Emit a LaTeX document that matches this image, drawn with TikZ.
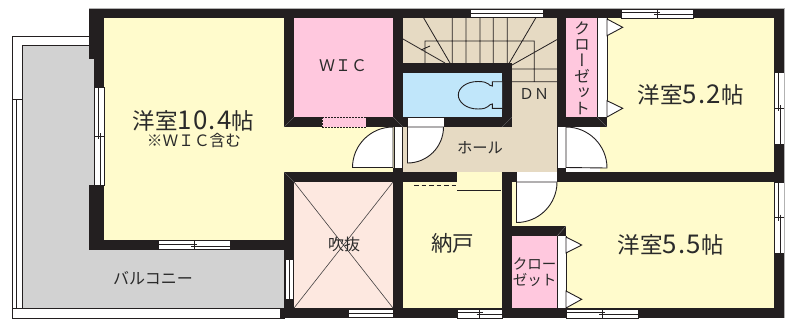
\documentclass[tikz,border=0pt]{standalone}
\usepackage{fontspec}
\setmainfont{Noto Sans CJK JP}
\newfontfamily\cjkv[RawFeature=+vert]{Noto Sans CJK JP}
\newfontfamily\numf[Scale=1.15,LetterSpace=5]{Noto Sans CJK JP}
\definecolor{wall}{HTML}{231F20}
\definecolor{ryellow}{HTML}{FFFBCC}
\definecolor{rpink}{HTML}{FFC8DE}
\definecolor{rblue}{HTML}{C0E6FA}
\definecolor{rtan}{HTML}{E6DAC3}
\definecolor{rgray}{HTML}{D2D2D2}
\definecolor{rvoid}{HTML}{FDE8E0}
\definecolor{ink}{HTML}{2A2A2A}
\tikzset{
  wallfill/.style={fill=wall,draw=none},
  doorleaf/.style={fill=white,draw=wall,line width=0.9pt},
  label/.style={text=ink,inner sep=0pt,font=\fontsize{#1}{#1}\selectfont}
}
\newcommand{\hwin}[3]{% x1 x2 ytop
  \fill[white] (#1,#3) rectangle (#2,#3+9);
  \draw[wall,line width=0.7pt] (#1,#3) rectangle (#2,#3+9);
  \draw[wall,line width=0.7pt] (#1,#3+3.5) -- ({(#1+#2)/2+3},#3+3.5);
  \draw[wall,line width=0.7pt] ({(#1+#2)/2-3},#3+5.5) -- (#2,#3+5.5);
  \draw[wall,line width=0.7pt] ({(#1+#2)/2},#3) -- ({(#1+#2)/2},#3+9);
}
\newcommand{\vwin}[3]{% y1 y2 xleft
  \fill[white] (#3,#1) rectangle (#3+9.5,#2);
  \draw[wall,line width=0.7pt] (#3,#1) rectangle (#3+9.5,#2);
  \draw[wall,line width=0.7pt] (#3+3.5,#1) -- (#3+3.5,{(#1+#2)/2+3});
  \draw[wall,line width=0.7pt] (#3+5.8,{(#1+#2)/2-3}) -- (#3+5.8,#2);
  \draw[wall,line width=0.7pt] (#3,{(#1+#2)/2}) -- (#3+9.5,{(#1+#2)/2});
}
\newcommand{\fixwin}[3]{% x1 x2 ytop
  \fill[white] (#1,#3) rectangle (#2,#3+9);
  \draw[wall,line width=0.7pt] (#1,#3+0.5) -- (#2,#3+0.5) (#1,#3+4.5) -- (#2,#3+4.5) (#1,#3+8.5) -- (#2,#3+8.5);
}
\begin{document}
\begin{tikzpicture}[x=1pt,y=-1pt]
\useasboundingbox (0,0) rectangle (799,322);
\fill[white] (0,0) rectangle (799,322);
% balcony
\draw[fill=white,draw=wall,line width=0.8pt] (12.5,36) rectangle (94,318);
\fill[rgray] (22,45) rectangle (289,308);
\draw[wall,line width=0.8pt] (22,45) -- (94,45) (22,45) -- (22,308) -- (284,308);
\draw[wall,line width=0.7pt] (12.5,99) -- (22,99) (16.7,99) -- (16.7,309);
\draw[fill=white,draw=wall,line width=0.8pt] (12.5,308.5) rectangle (284,318);
% rooms
\fill[ryellow] (100,14) rectangle (290,244);
\fill[ryellow] (284,120) rectangle (398,176);
\fill[rpink] (290,14) rectangle (398,122);
\fill[rvoid] (290,178) rectangle (398,312);
\fill[ryellow] (398,172) rectangle (507,312);
\fill[rtan] (398,14) rectangle (562,172);
\fill[rblue] (398,68) rectangle (507,122);
\fill[rpink] (562,14) rectangle (600,122);
\fill[ryellow] (600,14) rectangle (780,176);
\fill[ryellow] (507,178) rectangle (780,312);
\fill[rpink] (507,232) rectangle (560,312);
% void diagonals
\draw[wall!85,line width=0.6pt] (294,182) -- (393,308) (393,182) -- (294,308);
% stairs
\draw[wall,line width=0.8pt]
  (452.3,18) -- (452.3,63) (466,18) -- (466,63) (480,18) -- (480,63) (493.3,18) -- (493.3,63) (507.3,18) -- (507.3,63)
  (425,63) -- (425,41) -- (534.3,41) -- (534.3,81.7)
  (423.7,18) -- (450,63) (403,39) -- (445,63) (535.7,18) -- (509.3,63) (558,39) -- (512,65)
  (512,69) -- (557,69) (512,81.7) -- (557,81.7)
  (421,50) -- (430,46);
% closets white strips
\fill[white] (597,18) rectangle (607,117);
\draw[wall,line width=0.8pt] (597,18) -- (597,117) (607,18) -- (607,117);
\fill[white] (557,236) rectangle (566,308);
\draw[wall,line width=0.8pt] (557,236) -- (557,308) (566,236) -- (566,308);
% folding door triangles
\draw[doorleaf] (607,19) -- (622.7,27.3) -- (607,35.7) -- cycle;
\draw[doorleaf] (607,100.7) -- (622.7,108.3) -- (607,117) -- cycle;
\draw[doorleaf] (566,237) -- (581.7,245) -- (566,253) -- cycle;
\draw[doorleaf] (566,291) -- (581.7,299.3) -- (566,308) -- cycle;
% walls
\fill[wallfill] (89,8.5) rectangle (784,18);
\fill[wallfill] (89,8.5) rectangle (104,59);
\fill[wallfill] (94,59) rectangle (104,87);
\fill[wallfill] (89,185) rectangle (104,250);
\fill[wallfill] (89,240) rectangle (294,250);
\fill[wallfill] (284,8.5) rectangle (294,127);
\fill[wallfill] (284,117) rectangle (403,127);
\fill[wallfill] (393,8.5) rectangle (403,127);
\fill[wallfill] (403,63) rectangle (512,73);
\fill[wallfill] (502,63) rectangle (512,127);
\fill[wallfill] (403,117) rectangle (512,127);
\fill[wallfill] (557,8.5) rectangle (566,127);
\fill[wallfill] (557,117) rectangle (607,127);
\fill[wallfill] (774,8.5) rectangle (784,318);
\fill[wallfill] (284,172) rectangle (457,182);
\fill[wallfill] (284,172) rectangle (294,318);
\fill[wallfill] (393,167.5) rectangle (403,318);
\fill[wallfill] (502,172) rectangle (512,318);
\fill[wallfill] (502,172) rectangle (516.5,182);
\fill[wallfill] (557,167.5) rectangle (566,182);
\fill[wallfill] (557,172) rectangle (784,182);
\fill[wallfill] (512,226) rectangle (566,236);
\fill[wallfill] (280,308) rectangle (784,318);
% wall-corner hairlines
\draw[gray,line width=0.3pt] (284,127) -- (294,117) (393,117) -- (403,127) (502,127) -- (512,117) (597,117) -- (607,127) (284,172) -- (294,182) (557,236) -- (566,226);
% WIC sliding opening
\fill[rpink] (322,117) rectangle (366,127);
\draw[wall,dash pattern=on 2pt off 1pt,line width=0.7pt] (322,117.5) -- (366,117.5) (322,127) -- (366,127) (322,117) -- (322,127) (366,117) -- (366,127);
% door openings
\fill[white] (394,127) rectangle (403,167.5);
\draw[wall,line width=0.7pt] (394,127) -- (394,167.5) (402.8,127) -- (402.8,172);
\fill[white] (407.5,118) rectangle (443.5,127);
\fill[white] (557.3,127) rectangle (566,167.5);
\draw[wall,line width=0.7pt] (557.3,127) -- (557.3,172) (566,127) -- (566,167.5);
\fill[white] (516.5,172.5) rectangle (557,181.5);
% door leaves
\draw[doorleaf] (393,127) arc[start angle=-90,end angle=-180,radius=40.5] -- (393,167.5) -- cycle;
\draw[doorleaf] (443.5,127) arc[start angle=0,end angle=90,radius=36] -- (407.5,127) -- cycle;
\draw[doorleaf] (566,127) arc[start angle=-90,end angle=0,radius=41] -- (566,167.5) -- cycle;
\draw[doorleaf] (557,182) arc[start angle=0,end angle=90,radius=40.5] -- (516.5,182) -- cycle;
% storage door marks
\draw[wall,line width=0.8pt,dash pattern=on 4.5pt off 3pt] (414,185.5) -- (456,185.5);
\draw[wall,line width=0.8pt] (457,190) -- (501,190);
% toilet
\draw[fill=rblue,draw=wall,line width=0.9pt] (502,81.7) -- (492.3,81.7) -- (492.3,86)
  .. controls (488,86) and (490,81.5) .. (478,81.5)
  .. controls (466,81.5) and (458.3,88) .. (458.3,95)
  .. controls (458.3,102) and (466,109) .. (478,109)
  .. controls (490,109) and (488,104) .. (492.3,104)
  -- (492.3,108.3) -- (502,108.3);
% windows
\vwin{87}{185}{94.5}
\hwin{158}{230}{240.5}
\fixwin{471}{543}{9}
\hwin{621}{693}{9}
\vwin{72.7}{144}{774.5}
\vwin{182}{253}{774.5}
\fixwin{349}{393}{309}
\hwin{457}{502}{309}
\hwin{566}{638}{309}
\fill[white] (285,259) rectangle (294,299);
\draw[wall,line width=0.7pt] (285.5,259) rectangle (293.5,299) (289.5,259) -- (289.5,299);
\draw[gray!60,line width=0.5pt] (89,8.5) -- (784,8.5) -- (784,318);
% labels
\node[label=22.5] (room1) at (193.5,121) {洋室{\numf 10.4}帖};
\node[label=15.7] (room1note) at (194,140.5) {※ＷＩＣ含む};
\node[label=16] (wic) at (343,66) {ＷＩＣ};
\node[label=15] (dn) at (534,94) {ＤＮ};
\node[label=15.3] (hall) at (480,148) {ホール};
\node[label=16,font=\cjkv\fontsize{16}{16}\selectfont,align=center] (closet1) at (582,68.5) {ク\\ロ\\ー\\ゼ\\ッ\\ト};
\node[label=22.5] (room2) at (690.5,95) {洋室{\numf 5.2}帖};
\node[label=22.5] (room3) at (670.5,245) {洋室{\numf 5.5}帖};
\node[label=21.5] (storage) at (452.5,243) {納戸};
\node[label=16] (void) at (344,244) {吹抜};
\node[label=14.5,align=center,font=\fontsize{14.5}{16}\selectfont] (closet2) at (534.5,272) {クロー\\ゼット};
\node[label=16] (balcony) at (153,278) {バルコニー};
\end{tikzpicture}
\end{document}
